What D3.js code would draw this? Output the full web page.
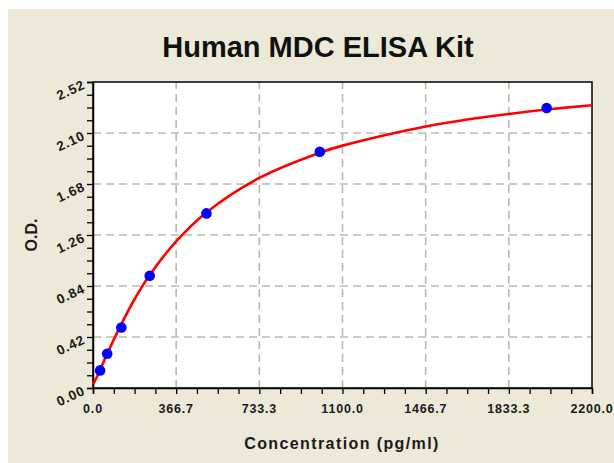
<!DOCTYPE html>
<html><head><meta charset="utf-8">
<script src="https://cdn.jsdelivr.net/npm/d3@7"></script>
<style>html,body{margin:0;padding:0;background:#fff;}svg{display:block;font-family:"Liberation Sans",Arial,sans-serif;}</style>
</head><body>
<svg id="c" width="614" height="463"></svg>
<script>
const title = "Human MDC ELISA Kit";
const xLabel = "Concentration (pg/ml)";
const yLabel = "O.D.";
const concentrations = [31.25, 62.5, 125, 250, 500, 1000, 2000];
const odValues = [0.145, 0.282, 0.498, 0.925, 1.438, 1.945, 2.306];
const curveX = [0, 15, 31.25, 62.5, 90, 125, 183.3, 250, 366.7, 500, 733.3, 1000, 1100, 1466.7, 1650, 1833.3, 2000, 2200];
const curveY = [0.03, 0.082, 0.15, 0.28, 0.392, 0.526, 0.731, 0.93, 1.208, 1.446, 1.73, 1.938, 1.996, 2.154, 2.211, 2.257, 2.293, 2.329];
const xTickLabels = ["0.0", "366.7", "733.3", "1100.0", "1466.7", "1833.3", "2200.0"];
const yTickLabels = ["0.00", "0.42", "0.84", "1.26", "1.68", "2.10", "2.52"];

const svg = d3.select("#c");
svg.append("rect").attr("x", 8).attr("y", 9).attr("width", 606).attr("height", 454).attr("fill", "#ECE9D8");

const L = 93, R = 592, T = 82, B = 388;
const x = d3.scaleLinear().domain([0, 2200]).range([L, R]);
const y = d3.scaleLinear().domain([0, 2.52]).range([B, T]);

svg.append("rect").attr("x", L).attr("y", T).attr("width", R - L).attr("height", B - T).attr("fill", "#fff");

const xMajor = xTickLabels.map(Number);
const yMajor = yTickLabels.map(Number);

// grid
const g = svg.append("g").attr("stroke", "#BDB9AC").attr("stroke-width", 1.6).attr("stroke-dasharray", "8,5");
xMajor.slice(1, -1).forEach(v => g.append("line").attr("x1", x(v)).attr("x2", x(v)).attr("y1", B).attr("y2", T));
yMajor.slice(1, -1).forEach(v => g.append("line").attr("y1", y(v)).attr("y2", y(v)).attr("x1", L).attr("x2", R));

// frame
svg.append("rect").attr("x", L).attr("y", T).attr("width", R - L).attr("height", B - T)
  .attr("fill", "none").attr("stroke", "#000").attr("stroke-width", 1.5);

// axes
const xMinor = d3.range(0, 2200 + 1, 2200 / 24);
const yMinor = d3.range(0, 2.52 + 0.001, 0.105);
const xAxis = d3.axisBottom(x).tickValues(xMinor).tickSize(6).tickFormat("");
const yAxis = d3.axisLeft(y).tickValues(yMinor).tickSize(6).tickFormat("");
const xa = svg.append("g").attr("transform", `translate(0,${B})`).call(xAxis);
const ya = svg.append("g").attr("transform", `translate(${L},0)`).call(yAxis);
[xa, ya].forEach(a => { a.select(".domain").attr("stroke", "#000").attr("stroke-width", 1.5); a.selectAll(".tick line").attr("stroke", "#000").attr("stroke-width", 1.3); });

// x tick labels
svg.append("g").selectAll("text").data(xTickLabels).join("text")
  .attr("x", d => x(+d)).attr("y", B + 25).attr("text-anchor", "middle")
  .attr("font-size", 12.5).attr("font-weight", "bold").attr("fill", "#1a1a1a").attr("letter-spacing", 0.8)
  .text(d => d);

// y tick labels (slanted)
svg.append("g").selectAll("text").data(yTickLabels).join("text")
  .attr("transform", d => `translate(${L - 7},${y(+d) + 6}) rotate(-25)`)
  .attr("text-anchor", "end")
  .attr("font-size", 13.5).attr("font-weight", "bold").attr("fill", "#1a1a1a").attr("letter-spacing", 0.8)
  .text(d => d);

// curve
const line = d3.line().x(d => x(d[0])).y(d => y(d[1])).curve(d3.curveCatmullRom.alpha(0.5));
svg.append("path").datum(d3.zip(curveX, curveY)).attr("d", line)
  .attr("fill", "none").attr("stroke", "#FF0000").attr("stroke-width", 2.6);

// points
svg.append("g").selectAll("circle").data(d3.zip(concentrations, odValues)).join("circle")
  .attr("cx", d => x(d[0])).attr("cy", d => y(d[1])).attr("r", 5.3).attr("fill", "#0000FF");

// titles
svg.append("text").attr("x", 318).attr("y", 57).attr("text-anchor", "middle")
  .attr("font-size", 29).attr("font-weight", "bold").attr("fill", "#111").text(title);
svg.append("text").attr("x", 342).attr("y", 449).attr("text-anchor", "middle")
  .attr("font-size", 16).attr("font-weight", "bold").attr("fill", "#1a1a1a").attr("letter-spacing", 1.4).text(xLabel);
svg.append("text").attr("transform", `translate(37,${(T + B) / 2}) rotate(-90)`).attr("text-anchor", "middle")
  .attr("font-size", 16).attr("font-weight", "bold").attr("fill", "#1a1a1a").text(yLabel);
</script>
</body></html>
